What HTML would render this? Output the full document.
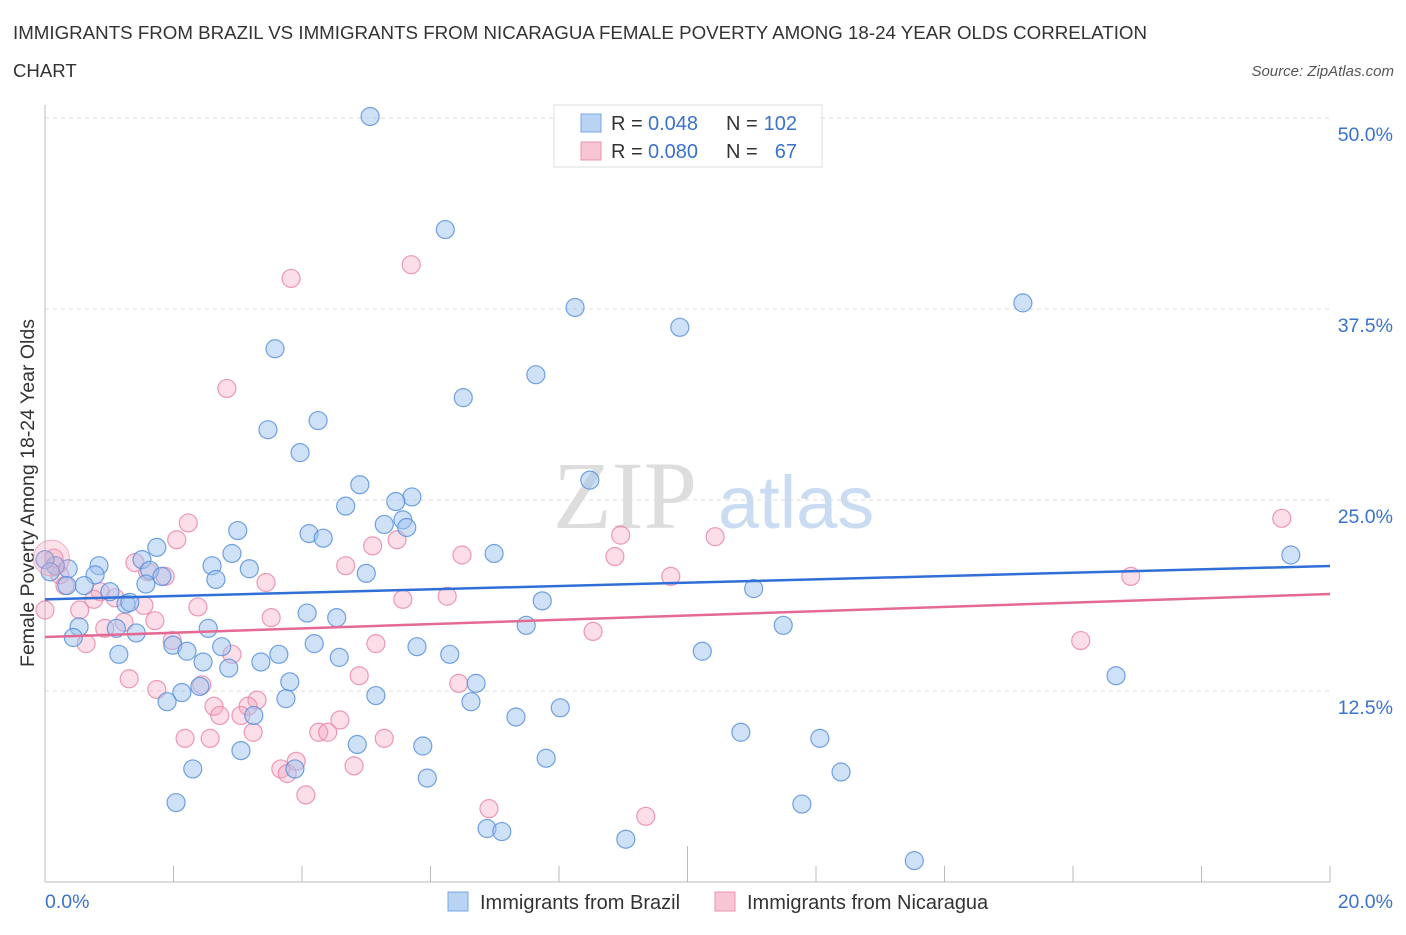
<!DOCTYPE html>
<html><head><meta charset="utf-8"><style>
body{margin:0;background:#fff;width:1406px;height:930px;overflow:hidden;font-family:"Liberation Sans",sans-serif;}
</style></head><body>
<svg id="chart" width="1406" height="930" xmlns="http://www.w3.org/2000/svg" font-family="Liberation Sans, sans-serif">
<text x="13" y="39" font-size="18.6" fill="#333" textLength="1134" lengthAdjust="spacingAndGlyphs">IMMIGRANTS FROM BRAZIL VS IMMIGRANTS FROM NICARAGUA FEMALE POVERTY AMONG 18-24 YEAR OLDS CORRELATION</text>
<text x="13" y="77" font-size="18.6" fill="#333">CHART</text>
<text x="1394" y="76" font-size="15" fill="#555" font-style="italic" text-anchor="end">Source: ZipAtlas.com</text>
<text x="553" y="528" font-size="96" font-family="Liberation Serif, serif" fill="#ddd">ZIP</text>
<text x="718" y="528" font-size="74" fill="#c9dcf2">atlas</text>
<text transform="translate(34,493) rotate(-90)" font-size="19.5" fill="#333" text-anchor="middle">Female Poverty Among 18-24 Year Olds</text>
<g id="grid"></g><g id="ticks"></g><g id="pts"></g><g id="lines"></g>
<g>
<rect x="554" y="105" width="268" height="62" fill="#fff" stroke="#ddd"/>
<rect x="581" y="114" width="20" height="18" fill="#b9d3f3" stroke="#7aa6e3"/>
<rect x="581" y="142" width="20" height="18" fill="#f8c5d5" stroke="#eb95b0"/>
<text x="611" y="130" font-size="20" fill="#333">R =</text>
<text x="648" y="130" font-size="20" fill="#3a73cc">0.048</text>
<text x="726" y="130" font-size="20" fill="#333">N =</text>
<text x="797" y="130" font-size="20" fill="#3a73cc" text-anchor="end">102</text>
<text x="611" y="158" font-size="20" fill="#333">R =</text>
<text x="648" y="158" font-size="20" fill="#3a73cc">0.080</text>
<text x="726" y="158" font-size="20" fill="#333">N =</text>
<text x="797" y="158" font-size="20" fill="#3a73cc" text-anchor="end">67</text>
</g>
<g>
<rect x="448" y="892" width="20" height="19" fill="#b9d3f3" stroke="#7aa6e3"/>
<text x="480" y="909" font-size="20" fill="#333">Immigrants from Brazil</text>
<rect x="715" y="892" width="20" height="19" fill="#f8c5d5" stroke="#eb95b0"/>
<text x="747" y="909" font-size="20" fill="#333">Immigrants from Nicaragua</text>
</g>
</svg>
<script>
const xTicks=[0,20];
const yTicks=[12.5,25,37.5,50];
const brazilX=[5.06,6.23,8.25,15.22,9.88,3.58,7.64,6.51,3.47,4.25,3.97,4.90,8.48,5.71,5.46,4.68,3.00,5.28,5.57,5.63,4.11,4.33,6.99,19.39,1.74,2.91,2.60,1.51,0.84,0.36,0.16,0,0.08,0.78,1.63,1.82,2.66,3.18,5.00,0.61,0.34,1.57,1.26,1.32,1.01,11.03,7.74,4.08,4.54,7.49,11.49,0.53,1.11,0.44,1.42,2.54,4.19,5.79,10.23,1.99,2.21,6.30,2.75,3.64,1.15,2.46,4.58,3.36,2.86,16.67,6.71,3.81,2.41,2.13,5.15,1.90,3.75,6.63,3.25,7.33,8.02,10.83,12.06,3.05,4.86,5.88,7.80,2.30,3.89,12.39,5.95,2.04,11.78,6.88,7.11,9.04,13.53,8.54];
const brazilY=[50.1,42.7,37.6,37.9,36.3,34.9,33.2,31.7,29.6,30.2,28.1,26.0,26.3,25.2,24.9,24.6,23.0,23.4,23.7,23.2,22.8,22.5,21.5,21.4,21.9,21.5,20.7,21.1,20.7,20.5,20.7,21.1,20.3,20.1,20.4,20.0,19.8,20.5,20.2,19.4,19.4,19.5,18.2,18.3,19.0,19.2,18.4,17.6,17.3,16.8,16.8,16.7,16.6,16.0,16.3,16.6,15.6,15.4,15.1,15.5,15.1,14.9,15.4,14.9,14.9,14.4,14.7,14.4,14.0,13.5,13.0,13.1,12.8,12.4,12.2,11.8,12.0,11.8,10.9,10.8,11.4,9.8,9.4,8.6,9.0,8.9,8.1,7.4,7.4,7.2,6.8,5.2,5.1,3.5,3.3,2.8,1.4,49.7];
const nicX=[8.14,5.70,3.83,2.83,19.25,2.23,10.43,8.96,2.05,5.10,5.48,6.49,8.87,4.68,1.40,1.60,1.87,9.74,16.90,3.44,0.14,0.23,0.31,0.86,0.76,1.09,0.54,1.54,0,5.57,6.26,2.38,3.52,1.71,1.23,0.93,0.64,1.98,5.15,8.53,16.12,2.91,4.89,1.31,2.44,1.74,6.44,3.30,2.63,2.72,3.16,3.05,4.59,4.26,4.40,2.18,3.24,2.57,5.28,4.81,3.91,3.67,3.77,4.06,6.91,9.35];
const nicY=[48.5,40.4,39.5,32.3,23.8,23.5,22.6,22.7,22.4,22.0,22.4,21.4,21.3,20.7,20.9,20.3,20.0,20.0,20.0,19.6,21.2,20.1,19.4,19.0,18.5,18.6,17.8,18.1,17.8,18.5,18.7,18.0,17.3,17.1,17.0,16.6,15.6,15.8,15.6,16.4,15.8,14.9,13.5,13.3,12.9,12.6,13.0,11.9,11.5,10.9,11.5,10.9,10.6,9.8,9.8,9.4,9.8,9.4,9.4,7.6,7.9,7.4,7.1,5.7,4.8,4.3];
const brazilTrend=[18.5,20.68];
const nicTrend=[16.03,18.85];
const NS="http://www.w3.org/2000/svg";
const X=v=>45+v/20*1285, Y=v=>882-v/50*764;
function mk(parent,tag,attrs){const e=document.createElementNS(NS,tag);for(const k in attrs)e.setAttribute(k,attrs[k]);document.getElementById(parent).appendChild(e);return e;}
yTicks.forEach(t=>{
 const g=mk('grid','line',{x1:45,x2:1330,y1:Y(t),y2:Y(t),stroke:'#ddd','stroke-dasharray':'4,4'});
 
 
 const l=mk('grid','text',{x:1393,y:Y(t)+23,'font-size':19.5,fill:'#3a73cc','text-anchor':'end'});
 l.textContent=t.toFixed(1)+'%';
 
 
});
const ax=mk('ticks','line',{x1:45,x2:1330,y1:882,y2:882,stroke:'#bbb'});


const ay=mk('ticks','line',{x1:45,x2:45,y1:105,y2:882,stroke:'#bbb'});


for(let i=0;i<=10;i++){
 const v=i*2;
 const t=mk('ticks','line',{x1:X(v),x2:X(v),y1:882,y2:i==5?846:866,stroke:'#bbb'});
 
 
}
xTicks.forEach((t,i)=>{
 const l=mk('ticks','text',{x:i==0?45:1393,y:908,'font-size':19.5,fill:'#3a73cc','text-anchor':i==0?'start':'end'});
 l.textContent=t.toFixed(1)+'%';
 
 
});
nicX.forEach((x,i)=>{
 const c=mk('pts','circle',{cx:X(x),cy:Y(nicY[i]),r:9,fill:'rgba(244,160,186,0.35)',stroke:'rgba(232,130,165,0.8)','stroke-width':1.2});
 
 
});
brazilX.forEach((x,i)=>{
 const c=mk('pts','circle',{cx:X(x),cy:Y(brazilY[i]),r:9,fill:'rgba(160,196,240,0.5)',stroke:'rgba(80,140,220,0.8)','stroke-width':1.2});
 
 
});
const big=mk('pts','circle',{cx:X(0.1),cy:Y(21.2),r:18,fill:'rgba(244,160,186,0.3)',stroke:'rgba(232,130,165,0.6)'});


const bl=mk('lines','line',{x1:X(0),x2:X(20),y1:Y(brazilTrend[0]),y2:Y(brazilTrend[1]),stroke:'#2f6fd6','stroke-width':2.5});


const nl=mk('lines','line',{x1:X(0),x2:X(20),y1:Y(nicTrend[0]),y2:Y(nicTrend[1]),stroke:'#e46a94','stroke-width':2.5});


</script>
</body></html>
